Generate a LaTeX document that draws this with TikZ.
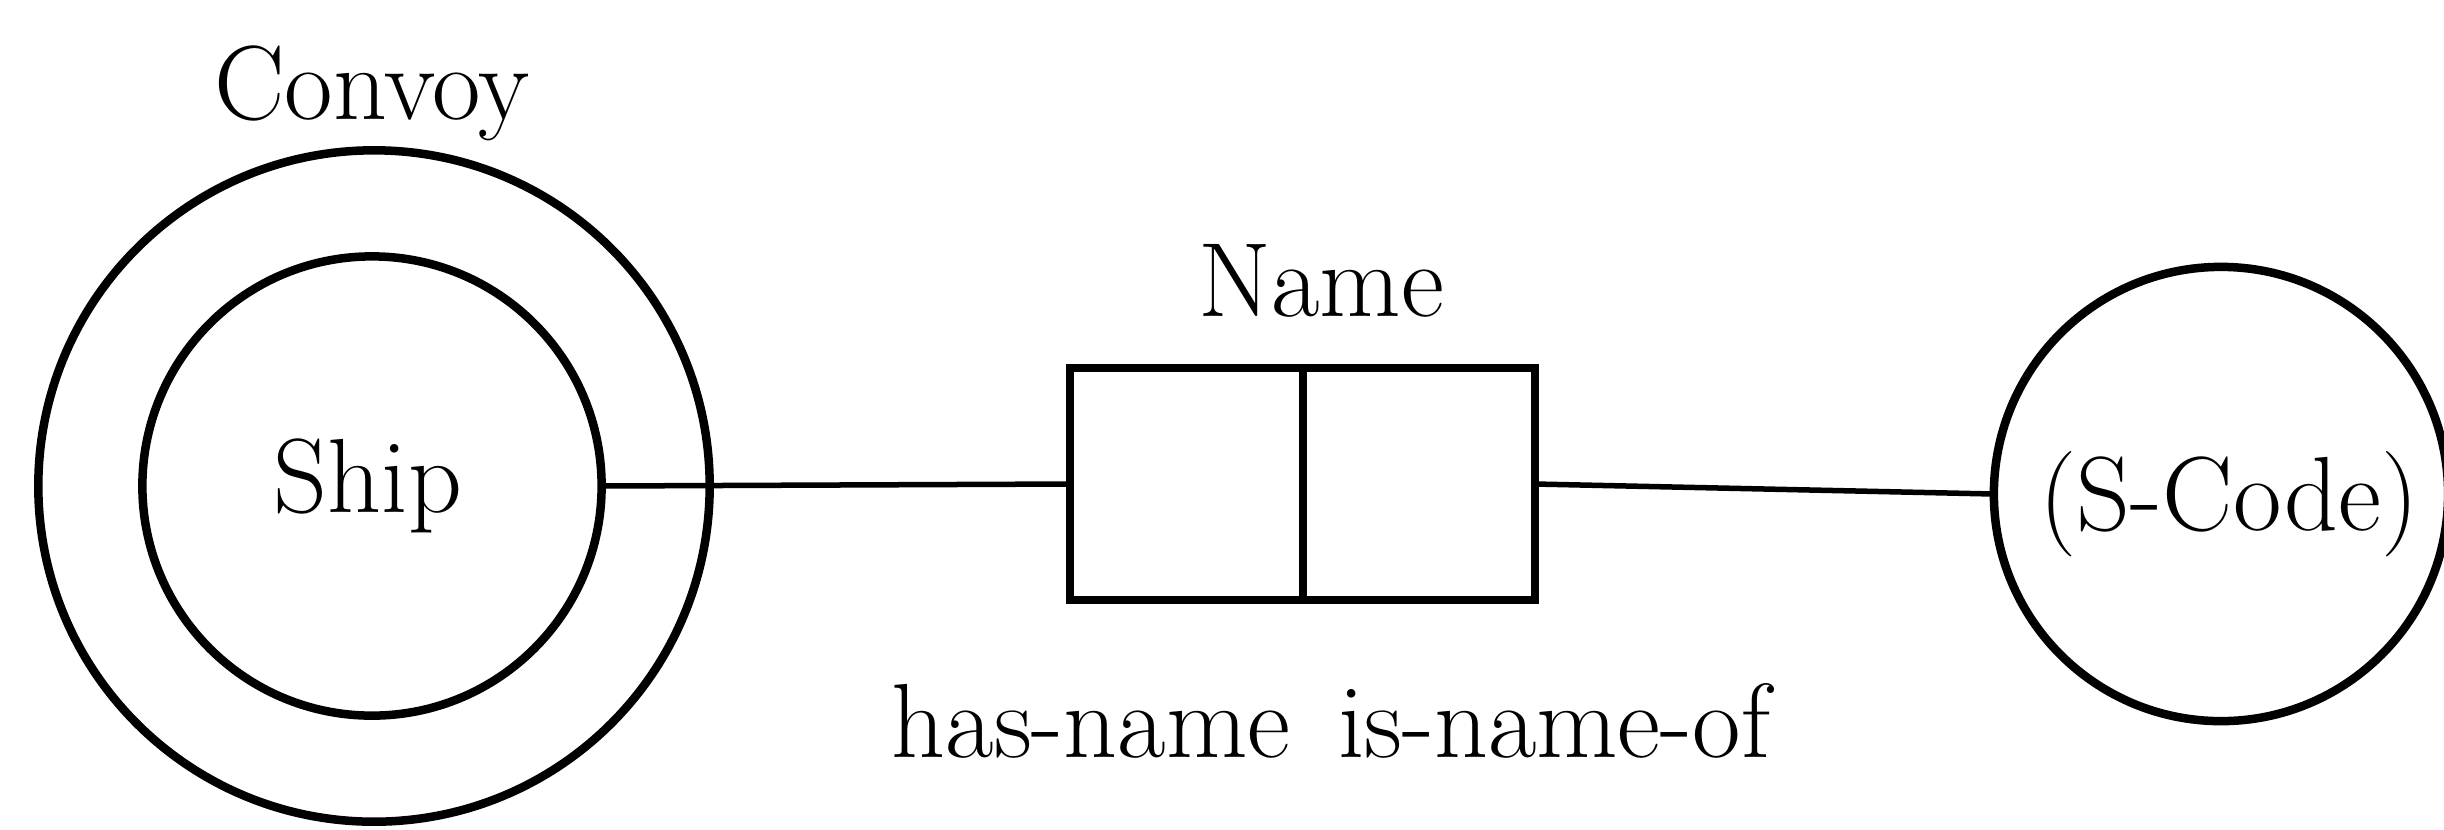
\documentclass[tikz,border=0pt]{standalone}
\usepackage{fontspec}
\begin{document}
\begin{tikzpicture}[x=0.01cm,y=-0.01cm,
  shapeline/.style={draw=black,line width=0.85mm},
  ring/.style={shapeline,circle,inner sep=0pt,outer sep=0pt},
  cell/.style={shapeline,rectangle,inner sep=0pt,outer sep=0pt,minimum height=2.32cm},
  link/.style={draw=black,line width=0.55mm},
  lbl/.style={anchor=base,inner sep=0pt,font=\fontsize{30}{36}\selectfont}]
  \useasboundingbox (0,0) rectangle (2444,829);

  % entity circles: the Convoy ring around Ship, and the value circle
  \node[ring,minimum size=6.71cm] (convoy) at (374,486) {};
  \node[ring,minimum size=4.59cm] (ship) at (372,486) {};
  \node[ring,minimum size=4.54cm] (scode) at (2221,494) {};

  % the two-role fact box
  \node[cell,minimum width=2.33cm] (roleA) at (1186.5,484) {};
  \node[cell,minimum width=2.32cm] (roleB) at (1419,484) {};

  % labels
  \node[lbl] (tconvoy) at (372,119) {Convoy};
  \node[lbl] (tship) at (368,512) {Ship};
  \node[lbl] (tname) at (1321,316) {Name};
  \node[lbl] (troles) at (1331,757) {has-name\hspace{0.15em} is-name-of};
  \node[lbl] (tscode) at (2229,530) {(S-Code)};

  % role connectors
  \draw[link] (ship.east) -- (roleA.west);
  \draw[link] (roleB.east) -- (scode.west);
\end{tikzpicture}
\end{document}
